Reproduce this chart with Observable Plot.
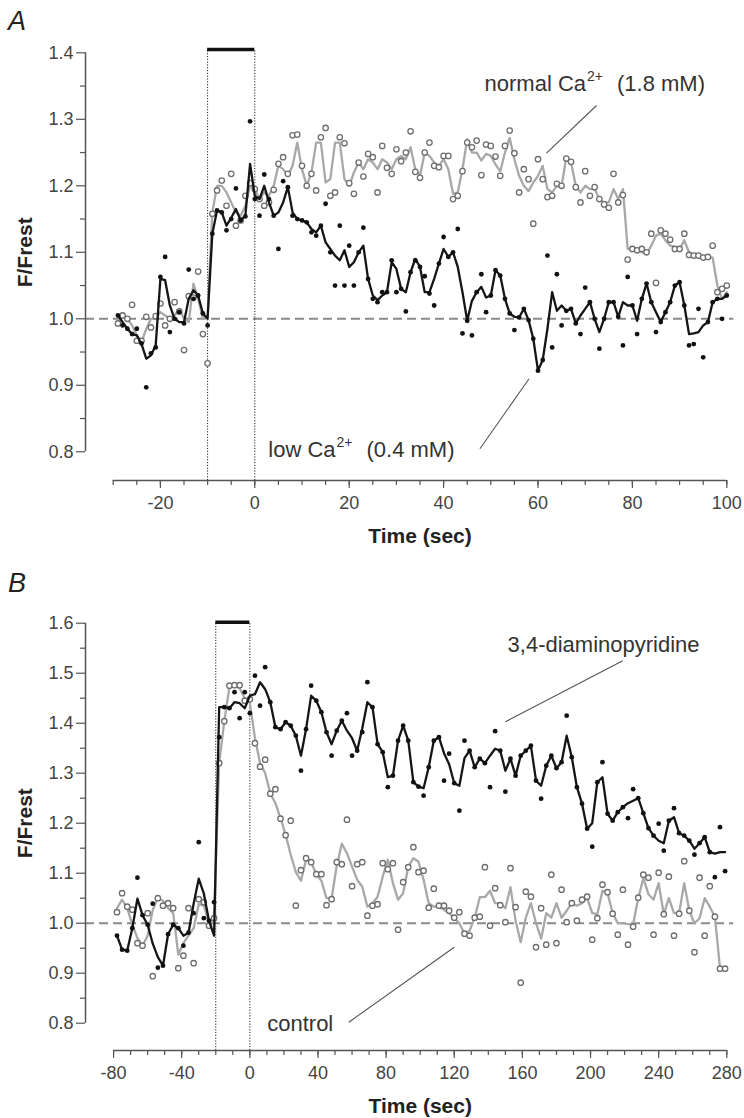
<!DOCTYPE html>
<html><head><meta charset="utf-8">
<script src="https://cdn.jsdelivr.net/npm/d3@7"></script>
<script src="https://cdn.jsdelivr.net/npm/@observablehq/plot@0.6"></script>
<style>
body{margin:0;background:#fff;}
#wrap{position:relative;width:744px;height:1118px;overflow:hidden;font-family:"Liberation Sans",Arial,sans-serif;background:#fff;}
.panel{position:absolute;left:0;}
.letter{position:absolute;font-style:italic;font-size:27px;color:#222;line-height:27px;}
</style></head><body>
<div id="wrap">
  <div class="letter" style="left:8px;top:8px">A</div>
  <div class="panel" id="pa" style="top:40px"></div>
  <div class="letter" style="left:8px;top:570px">B</div>
  <div class="panel" id="pb" style="top:600px"></div>
</div>
<script>
// ---------- Panel A data (sampling every 1 s from -29 s to 100 s) ----------
const timesA = d3.range(-29, 101, 1);
const lowCaLine = [
  1.005,0.995,0.985,0.977,0.975,0.962,0.94,0.945,0.96,1.06,
  1.058,1.02,1.0,0.995,0.995,1.03,1.043,1.035,1.008,1.0,
  1.128,1.163,1.16,1.14,1.152,1.165,1.148,1.155,1.233,1.185,
  1.18,1.2,1.175,1.155,1.16,1.175,1.198,1.16,1.15,1.148,
  1.145,1.135,1.13,1.14,1.115,1.105,1.095,1.088,1.103,1.078,
  1.085,1.1,1.11,1.06,1.035,1.028,1.035,1.04,1.085,1.075,
  1.045,1.04,1.07,1.09,1.078,1.04,1.04,1.06,1.083,1.105,
  1.093,1.1,1.078,1.04,0.997,1.027,1.04,1.048,1.032,1.035,
  1.073,1.065,1.03,1.008,1.003,1.002,1.015,0.998,0.97,0.922,
  0.938,0.985,1.04,1.012,1.02,1.012,1.015,0.993,1.005,1.015,
  1.025,1.0,0.98,1.0,1.025,1.025,1.003,1.025,1.02,1.02,
  0.997,1.03,1.053,1.025,1.01,0.995,1.01,1.025,1.05,1.055,
  1.02,0.977,0.978,0.98,0.99,0.995,1.025,1.03,1.03,1.035];
const lowCaPts = [
  1.005,0.99,0.985,0.977,0.985,0.963,0.897,0.948,0.957,1.063,
  1.093,0.98,1.0,1.01,0.993,1.074,1.03,1.035,1.008,0.99,
  1.128,1.163,1.16,1.133,1.15,1.196,1.148,1.154,1.297,1.18,
  1.155,1.217,1.18,1.155,1.105,1.207,1.198,1.155,1.15,1.148,
  1.145,1.13,1.125,1.14,1.173,1.1,1.05,1.14,1.05,1.11,
  1.05,1.1,1.137,1.06,1.03,1.025,1.04,1.04,1.088,1.04,
  1.045,1.011,1.07,1.088,1.078,1.064,1.038,1.02,1.083,1.123,
  1.093,1.1,1.135,0.978,0.997,0.975,1.04,1.067,1.01,1.035,
  1.073,1.065,1.03,1.008,0.983,1.002,1.015,0.998,0.97,0.922,
  0.938,1.095,0.957,1.067,0.99,1.012,1.015,0.993,0.977,1.047,
  1.025,1.0,0.955,1.0,1.025,1.025,1.003,0.96,1.063,1.02,
  0.977,1.03,1.053,1.025,0.98,0.995,1.01,1.025,1.05,1.055,
  1.02,0.96,0.962,1.015,0.942,0.995,1.025,1.03,1.0,1.035];
const normalCaLine = [
  0.995,1.005,1.0,0.99,0.975,0.965,0.985,1.0,1.0,1.01,
  1.005,1.0,1.005,1.015,1.0,0.995,1.053,1.03,1.0,1.005,
  1.16,1.2,1.2,1.19,1.175,1.16,1.155,1.17,1.2,1.195,
  1.18,1.19,1.185,1.2,1.23,1.225,1.215,1.23,1.265,1.225,
  1.2,1.22,1.265,1.265,1.205,1.21,1.265,1.265,1.21,1.2,
  1.22,1.235,1.225,1.24,1.235,1.225,1.24,1.235,1.225,1.24,
  1.245,1.24,1.258,1.225,1.215,1.25,1.245,1.235,1.23,1.24,
  1.225,1.188,1.19,1.225,1.27,1.25,1.25,1.238,1.248,1.245,
  1.232,1.222,1.25,1.272,1.24,1.215,1.2,1.192,1.205,1.215,
  1.23,1.195,1.19,1.2,1.2,1.243,1.235,1.2,1.19,1.2,
  1.195,1.195,1.18,1.175,1.175,1.195,1.18,1.195,1.105,1.105,
  1.105,1.1,1.097,1.11,1.125,1.128,1.118,1.11,1.108,1.105,
  1.118,1.1,1.095,1.095,1.095,1.093,1.092,1.05,1.03,1.04];
const normalCaPts = [
  0.993,1.005,1.0,1.021,0.967,0.967,1.003,0.987,1.004,1.023,
  0.99,1.0,1.025,1.011,0.953,1.034,1.032,1.071,0.977,0.933,
  1.158,1.193,1.208,1.17,1.218,1.14,1.148,1.185,1.204,1.195,
  1.18,1.17,1.175,1.194,1.233,1.243,1.218,1.276,1.277,1.23,
  1.2,1.218,1.193,1.273,1.287,1.185,1.19,1.273,1.264,1.204,
  1.188,1.235,1.214,1.248,1.243,1.19,1.26,1.227,1.218,1.255,
  1.237,1.25,1.282,1.221,1.212,1.25,1.265,1.23,1.228,1.245,
  1.245,1.18,1.185,1.222,1.265,1.258,1.268,1.216,1.262,1.26,
  1.244,1.215,1.26,1.283,1.249,1.19,1.225,1.21,1.143,1.24,
  1.21,1.183,1.185,1.203,1.2,1.241,1.236,1.198,1.175,1.222,
  1.185,1.198,1.18,1.172,1.167,1.218,1.175,1.186,1.089,1.105,
  1.103,1.105,1.1,1.128,1.054,1.133,1.128,1.119,1.105,1.105,
  1.128,1.096,1.095,1.095,1.092,1.093,1.11,1.04,1.045,1.05];

// ---------- Panel B data (sampling every 3 s from -78 s to 279 s) ----------
const timesB = d3.range(-78, 280, 3);
const dapLine = [
  0.975,0.947,0.945,0.99,1.049,1.016,0.997,0.959,0.932,0.915,
  0.978,0.997,0.99,0.975,0.981,1.039,1.089,1.059,1.005,0.975,
  1.432,1.432,1.43,1.442,1.44,1.43,1.455,1.458,1.482,1.468,
  1.442,1.392,1.388,1.402,1.395,1.375,1.335,1.388,1.455,1.445,
  1.422,1.382,1.358,1.385,1.405,1.385,1.37,1.345,1.39,1.442,
  1.432,1.358,1.342,1.292,1.295,1.365,1.395,1.365,1.282,1.273,
  1.27,1.312,1.365,1.372,1.34,1.318,1.28,1.275,1.33,1.345,
  1.312,1.329,1.32,1.335,1.349,1.345,1.305,1.329,1.295,1.335,
  1.345,1.355,1.285,1.275,1.315,1.335,1.31,1.322,1.375,1.332,
  1.272,1.239,1.189,1.2,1.282,1.292,1.219,1.205,1.222,1.232,
  1.24,1.245,1.25,1.22,1.19,1.175,1.165,1.16,1.205,1.212,
  1.18,1.175,1.165,1.149,1.16,1.172,1.142,1.139,1.142,1.142];
const dapPts = [
  0.975,0.947,0.945,0.99,1.091,1.016,0.997,1.039,0.911,0.915,
  0.978,0.997,0.99,0.955,0.981,1.02,1.162,1.01,1.005,1.042,
  1.372,1.432,1.43,1.462,1.41,1.462,1.42,1.495,1.435,1.512,
  1.442,1.392,1.388,1.402,1.395,1.375,1.305,1.388,1.475,1.445,
  1.422,1.382,1.335,1.385,1.405,1.42,1.335,1.345,1.382,1.482,
  1.432,1.358,1.342,1.272,1.295,1.365,1.395,1.365,1.282,1.273,
  1.255,1.312,1.365,1.372,1.285,1.339,1.28,1.225,1.365,1.345,
  1.312,1.329,1.32,1.272,1.384,1.345,1.263,1.329,1.295,1.335,
  1.345,1.355,1.285,1.249,1.315,1.335,1.31,1.322,1.415,1.332,
  1.272,1.239,1.189,1.153,1.282,1.322,1.219,1.205,1.222,1.232,
  1.21,1.268,1.25,1.22,1.19,1.175,1.199,1.145,1.205,1.23,
  1.18,1.175,1.165,1.137,1.16,1.172,1.142,1.092,1.192,1.104];
const controlLine = [
  1.03,1.047,1.03,0.997,0.97,0.955,0.975,1.027,1.05,1.045,
  1.03,1.02,0.937,0.96,0.975,0.99,1.038,1.035,1.0,1.01,
  1.32,1.404,1.472,1.476,1.47,1.45,1.44,1.37,1.32,1.3,
  1.26,1.24,1.21,1.177,1.137,1.102,1.085,1.127,1.122,1.098,
  1.085,1.05,1.05,1.115,1.159,1.14,1.113,1.087,1.073,1.033,
  1.04,1.053,1.093,1.127,1.08,1.047,1.06,1.113,1.13,1.123,
  1.087,1.04,1.033,1.033,1.027,1.02,1.01,1.0,0.979,0.985,
  1.011,1.052,1.052,1.065,1.04,1.04,1.03,1.072,1.005,0.962,
  1.011,1.04,1.0,0.969,1.02,1.011,1.04,1.011,1.025,1.04,
  1.035,1.04,1.05,1.02,1.018,1.065,1.06,1.02,1.0,1.0,
  0.998,0.998,1.05,1.09,1.058,1.047,1.08,1.018,1.05,1.02,
  1.02,1.08,1.025,1.0,1.01,1.05,1.033,1.013,0.91,0.91];
const controlPts = [
  1.022,1.06,1.033,1.027,0.96,0.955,1.02,0.894,1.05,1.035,
  1.04,1.03,0.91,0.935,1.03,0.92,1.048,1.042,0.995,1.01,
  1.32,1.404,1.475,1.476,1.476,1.445,1.448,1.36,1.313,1.327,
  1.259,1.268,1.209,1.176,1.205,1.035,1.106,1.13,1.122,1.098,
  1.098,1.036,1.048,1.122,1.118,1.207,1.074,1.118,1.122,1.015,
  1.035,1.038,1.12,1.108,1.12,0.987,1.082,1.112,1.152,1.102,
  1.105,1.031,1.069,1.035,1.035,1.025,1.011,1.022,0.979,0.975,
  1.011,1.013,1.112,0.995,1.07,1.036,1.002,1.11,1.032,0.881,
  1.063,1.053,0.952,1.03,0.957,1.097,0.96,1.067,1.002,1.04,
  1.005,1.047,1.053,0.967,1.01,1.077,1.062,1.019,0.977,1.067,
  0.957,0.993,1.051,1.097,1.091,0.977,1.101,1.018,1.093,0.975,
  1.019,1.124,1.025,0.942,1.091,0.975,1.074,1.013,0.909,0.909];

// ---------- ticks ----------
const yTicksA = [0.8,0.9,1.0,1.1,1.2,1.3,1.4];
const yMinorA = [0.85,0.95,1.05,1.15,1.25,1.35];
const xTicksA = [-20,0,20,40,60,80,100];
const xMinorA = d3.range(-30, 101, 5);
const yTicksB = [0.8,0.9,1.0,1.1,1.2,1.3,1.4,1.5,1.6];
const yMinorB = [0.85,0.95,1.05,1.15,1.25,1.35,1.45,1.55];
const xTicksB = [-80,-40,0,40,80,120,160,200,240,280];
const xMinorB = d3.range(-80, 281, 10);

// ---------- annotations: tx/ty text anchor (baseline), lx/ly leader line ----------
const annA = [
  {main: "normal Ca", sup: "2+", rest: "(1.8 mM)", tx: 70.17, ty: 1.3423, lx1: 72.4, ly1: 1.3208, lx2: 61.8, ly2: 1.249},
  {main: "low Ca", sup: "2+", rest: "(0.4 mM)", tx: 17.1, ty: 0.7919, lx1: 47.7, ly1: 0.8045, lx2: 58.1, ly2: 0.9098}
];
const annB = [
  {main: "3,4-diaminopyridine", sup: "", rest: "", tx: 151.3, ty: 1.542, lx1: 218.9, ly1: 1.525, lx2: 150, ly2: 1.403},
  {main: "control", sup: "", rest: "", tx: 10.2, ty: 0.785, lx1: 58.1, ly1: 0.802, lx2: 120, ly2: 0.952}
];

const FONT = '"Liberation Sans", Arial, Helvetica, sans-serif';

function panel(o) {
  const ann = o.annotations;
  const plain = ann.filter(d => !d.sup);
  const supAnn = ann.filter(d => d.sup);
  const black = o.times.map((t, i) => ({t, line: o.blackLine[i], pt: o.blackPts[i]}));
  const gray = o.times.map((t, i) => ({t, line: o.grayLine[i], pt: o.grayPts[i]}));
  const xLo = o.xDomain[0], yLo = o.yDomain[0];
  return Plot.plot({
    width: 744, height: o.height,
    marginLeft: 85, marginRight: 17.7, marginTop: o.marginTop, marginBottom: o.marginBottom,
    x: {domain: o.xDomain}, y: {domain: o.yDomain},
    style: {fontFamily: FONT, fontSize: "18px", background: "white", overflow: "visible"},
    marks: [
      Plot.ruleY([1], {x1: xLo, x2: o.dashEnd, stroke: "#8a8a8a", strokeWidth: 2, strokeDasharray: "9,5"}),
      Plot.ruleX(o.stim, {y1: yLo, y2: o.barY, stroke: "#222", strokeWidth: 1, strokeDasharray: "1.2,1.6"}),
      Plot.ruleY([o.barY], {x1: o.stim[0], x2: o.stim[1], stroke: "#111", strokeWidth: 3.5}),
      Plot.line(gray, {x: "t", y: "line", stroke: "#a8a8a8", strokeWidth: 2.3}),
      Plot.dot(gray, {x: "t", y: "pt", r: 2.7, stroke: "#6e6e6e", strokeWidth: 1.3, fill: "white"}),
      Plot.line(black, {x: "t", y: "line", stroke: "#151515", strokeWidth: 2.3}),
      Plot.dot(black, {x: "t", y: "pt", r: 2.4, fill: "#111"}),
      Plot.link(ann, {x1: "lx1", y1: "ly1", x2: "lx2", y2: "ly2", stroke: "#555", strokeWidth: 1.1}),
      Plot.text(plain, {x: "tx", y: "ty", text: "main", textAnchor: "start", lineAnchor: "bottom", fontSize: 22, fill: "#333"}),
      Plot.text(supAnn, {x: "tx", y: "ty", text: "main", textAnchor: "end", lineAnchor: "bottom", fontSize: 22, fill: "#333"}),
      Plot.text(supAnn, {x: "tx", y: "ty", text: "sup", textAnchor: "start", lineAnchor: "bottom", dx: 1, dy: -10, fontSize: 14, fill: "#333"}),
      Plot.text(supAnn, {x: "tx", y: "ty", text: "rest", textAnchor: "start", lineAnchor: "bottom", dx: 31, fontSize: 22, fill: "#333"}),
      Plot.ruleX([xLo], {y1: o.yAxisRange[0], y2: o.yAxisRange[1], stroke: "#555", strokeWidth: 1.5}),
      Plot.ruleY([yLo], {x1: o.xAxisRange[0], x2: o.xAxisRange[1], stroke: "#555", strokeWidth: 1.5}),
      Plot.axisY({ticks: o.yMinor, tickSize: 5, tickFormat: () => "", label: null, stroke: "#555", strokeWidth: 1.2}),
      Plot.axisY({ticks: o.yTicks, tickSize: 9, tickPadding: 3, tickFormat: d => d.toFixed(1), label: null, stroke: "#555", fill: "#444", strokeWidth: 1.2, fontSize: 18}),
      Plot.axisX({ticks: o.xMinor, tickSize: 5, tickFormat: () => "", label: null, stroke: "#555", strokeWidth: 1.2}),
      Plot.axisX({ticks: o.xTicks, tickSize: 8, tickPadding: 8, tickFormat: d => String(d), label: null, stroke: "#555", fill: "#444", strokeWidth: 1.2, fontSize: 18}),
      Plot.text([{x: o.xTitleX, y: yLo, s: "Time (sec)"}], {x: "x", y: "y", text: "s", dy: 56, fontWeight: "bold", fontSize: 21, fill: "#222"}),
      Plot.text([{x: xLo, y: o.yTitleY, s: "F/Frest"}], {x: "x", y: "y", text: "s", dx: -60, rotate: -90, fontWeight: "bold", fontSize: 21, fill: "#222"})
    ]
  });
}

const optsA = {
  times: timesA, blackLine: lowCaLine, blackPts: lowCaPts, grayLine: normalCaLine, grayPts: normalCaPts,
  xDomain: [-35.87, 100], yDomain: [0.7568, 1.4095], height: 508, marginTop: 6, marginBottom: 68,
  stim: [-10, 0], barY: 1.405, dashEnd: 101.5, yAxisRange: [0.8, 1.4], xAxisRange: [-30, 100],
  yTicks: yTicksA, yMinor: yMinorA, xTicks: xTicksA, xMinor: xMinorA, xTitleX: 35, yTitleY: 1.1,
  annotations: annA
};
const optsB = {
  times: timesB, blackLine: dapLine, blackPts: dapPts, grayLine: controlLine, grayPts: controlPts,
  xDomain: [-96.48, 280], yDomain: [0.7454, 1.6214], height: 518, marginTop: 12, marginBottom: 68,
  stim: [-20, 0], barY: 1.602, dashEnd: 284, yAxisRange: [0.8, 1.6], xAxisRange: [-80, 280],
  yTicks: yTicksB, yMinor: yMinorB, xTicks: xTicksB, xMinor: xMinorB, xTitleX: 100, yTitleY: 1.2,
  annotations: annB
};

document.getElementById("pa").appendChild(panel(optsA));
document.getElementById("pb").appendChild(panel(optsB));
</script>
</body></html>
